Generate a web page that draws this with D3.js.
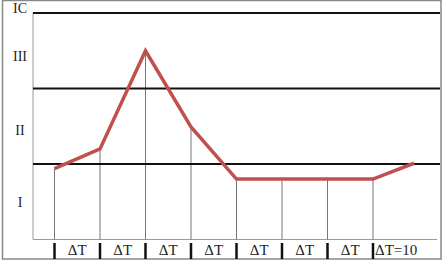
<!DOCTYPE html>
<html>
<head>
<meta charset="UTF-8">
<title>Zones over time</title>
<style>
  body { margin: 0; background: #fff; }
  svg text { font-family: "Liberation Serif", "DejaVu Serif", serif; fill: #222; }
</style>
</head>
<body>
<svg width="444" height="264"></svg>
<script src="https://d3js.org/d3.v7.min.js"></script>
<script>
  // data
  var steps = [0, 1, 2, 3, 4, 5, 6, 7, 7.9];
  var levels = [0.94, 1.2, 2.5, 1.49, 0.8, 0.8, 0.8, 0.8, 1.01];
  var zoneLines = [1, 2, 3];
  var zoneNames = ["I", "II", "III", "IC"];
  var zoneLabelAt = [0.5, 1.45, 2.43, 3.06];
  var stepLabels = ["\u0394T", "\u0394T", "\u0394T", "\u0394T", "\u0394T", "\u0394T", "\u0394T", "\u0394T=10"];

  var svg = d3.select("svg");

  var x = d3.scaleLinear().domain([0, 8]).range([54.5, 418.5]);
  var y = d3.scaleLinear().domain([0, 3]).range([239.5, 13]);
  var left = 33, right = 440;

  // outer frame
  svg.append("rect")
    .attr("x", 2.5).attr("y", 0.5)
    .attr("width", 438.5).attr("height", 258.5)
    .attr("fill", "none").attr("stroke", "#888").attr("stroke-width", 1.5);

  // inner axes (thin gray)
  svg.append("line")
    .attr("x1", left).attr("x2", left)
    .attr("y1", y(3)).attr("y2", y(0))
    .attr("stroke", "#999").attr("stroke-width", 1);
  svg.append("line")
    .attr("x1", left).attr("x2", 437)
    .attr("y1", y(0)).attr("y2", y(0))
    .attr("stroke", "#999").attr("stroke-width", 1);

  // drop lines from each point
  svg.append("g").selectAll("line")
    .data(steps.slice(0, 8))
    .enter().append("line")
    .attr("x1", function(d) { return x(d); })
    .attr("x2", function(d) { return x(d); })
    .attr("y1", function(d, i) { return y(levels[i]); })
    .attr("y2", y(0))
    .attr("stroke", "#777").attr("stroke-width", 1);

  // zone boundaries
  svg.append("g").selectAll("line")
    .data(zoneLines)
    .enter().append("line")
    .attr("x1", left).attr("x2", right)
    .attr("y1", function(d) { return y(d); })
    .attr("y2", function(d) { return y(d); })
    .attr("stroke", "#111").attr("stroke-width", 2);

  // zone labels
  svg.append("g").selectAll("text")
    .data(zoneNames)
    .enter().append("text")
    .attr("x", 20)
    .attr("y", function(d, i) { return y(zoneLabelAt[i]); })
    .attr("dy", "0.35em")
    .attr("text-anchor", "middle")
    .attr("font-size", 14)
    .text(function(d) { return d; });

  // red line
  var line = d3.line()
    .x(function(d) { return x(d); })
    .y(function(d, i) { return y(levels[i]); });
  svg.append("path")
    .datum(steps)
    .attr("d", line)
    .attr("fill", "none")
    .attr("stroke", "#c0504d")
    .attr("stroke-width", 3.5)
    .attr("stroke-linejoin", "miter");

  // bottom ticks
  svg.append("g").selectAll("line")
    .data(d3.range(8))
    .enter().append("line")
    .attr("x1", function(d) { return x(d); })
    .attr("x2", function(d) { return x(d); })
    .attr("y1", 243).attr("y2", 259)
    .attr("stroke", "#111").attr("stroke-width", 2.5);

  // step labels
  svg.append("g").selectAll("text")
    .data(stepLabels)
    .enter().append("text")
    .attr("x", function(d, i) { return i < 7 ? x(i + 0.5) : x(i) + 2; })
    .attr("y", 250)
    .attr("dy", "0.35em")
    .attr("text-anchor", function(d, i) { return i < 7 ? "middle" : "start"; })
    .attr("font-size", 15)
    .text(function(d) { return d; });
</script>
</body>
</html>
